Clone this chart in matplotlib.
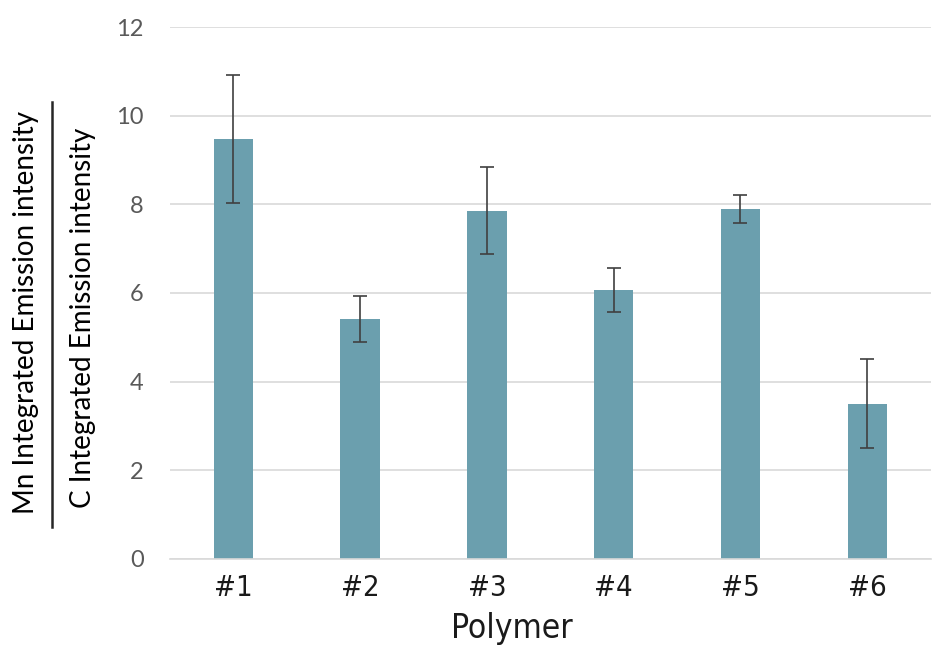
import matplotlib
matplotlib.use('Agg')
import matplotlib.pyplot as plt
import numpy as np

# 数据
polymers = ['#1', '#2', '#3', '#4', '#5', '#6']
ratio = [9.47, 5.42, 7.86, 6.07, 7.89, 3.50]
ratio_err = [1.44, 0.52, 0.98, 0.50, 0.31, 1.00]
yticks = [0, 2, 4, 6, 8, 10, 12]

x = np.arange(len(polymers))

fig = plt.figure(figsize=(9.39, 6.46), dpi=100)
ax = fig.add_axes([0.181, 0.135, 0.81, 0.823])

ax.bar(x, ratio, 0.31, color='#6b9fae', zorder=2)
ax.errorbar(x, ratio, yerr=ratio_err, fmt='none', ecolor='#404040',
            elinewidth=1.2, capsize=5, capthick=1.2, zorder=3)

ax.set_ylim(0, 12)
ax.set_xlim(-0.5, len(polymers) - 0.5)
ax.set_yticks(yticks)
ax.grid(axis='y', color='#d9d9d9', linewidth=1.2, zorder=0)
ax.set_axisbelow(True)
for s in ['top', 'right', 'left']:
    ax.spines[s].set_visible(False)
ax.spines['bottom'].set_color('#d9d9d9')
ax.spines['bottom'].set_linewidth(1.2)
ax.tick_params(axis='both', length=0)
ax.tick_params(axis='y', pad=19, labelsize=17, labelcolor='#595959')
ax.set_yticklabels([str(v) for v in yticks], family='Lato')
ax.set_xticks(x)
ax.set_xticklabels(polymers, family='DejaVu Sans', fontstretch='condensed',
                   fontsize=21, color='#1a1a1a')
ax.tick_params(axis='x', pad=11)
ax.set_xlabel('Polymer', family='DejaVu Sans', fontstretch='condensed',
              fontsize=24, color='#1a1a1a')
ax.xaxis.set_label_coords(0.45, -0.1)

# y轴标签：分式形式
fig.text(0.028, 1 - 312 / 646, 'Mn Integrated Emission intensity', rotation=90,
         ha='center', va='center', fontsize=20, family='Lato')
fig.text(0.088, 1 - 318 / 646, 'C Integrated Emission intensity', rotation=90,
         ha='center', va='center', fontsize=20, family='Lato')
fig.add_artist(plt.Line2D([0.0555, 0.0555], [1 - 527 / 646, 1 - 102 / 646],
                          transform=fig.transFigure, color='#262626', linewidth=1.8))

fig.savefig('out.png', dpi=100)
